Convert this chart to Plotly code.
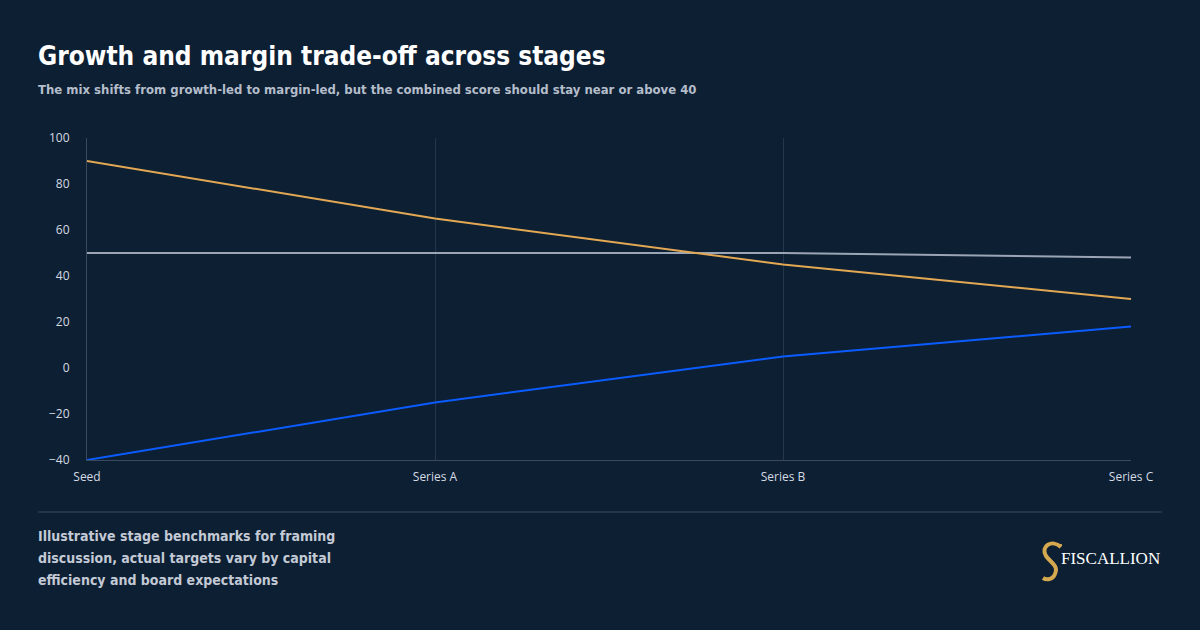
import plotly.graph_objects as go

stages = ["Seed", "Series A", "Series B", "Series C"]
growth = [90, 65, 45, 30]
margin = [-40, -15, 5, 18]
combined = [50, 50, 50, 48]
y_ticks = [-40, -20, 0, 20, 40, 60, 80, 100]

title = "Growth and margin trade-off across stages"
subtitle = "The mix shifts from growth-led to margin-led, but the combined score should stay near or above 40"
footer_lines = ["Illustrative stage benchmarks for framing",
                "discussion, actual targets vary by capital",
                "efficiency and board expectations"]

BG = "#0d1f33"
COND = "Liberation Sans Narrow, DejaVu Sans Condensed, sans-serif"
L, W, T, H = 87, 1044, 138, 322


def px(x):
    return (x - L) / W


def py(y):
    return 1 - (y - T) / H


fig = go.Figure()
fig.add_trace(go.Scatter(x=stages, y=combined, mode="lines", name="Combined",
                         line=dict(color="#9aa5b5", width=2)))
fig.add_trace(go.Scatter(x=stages, y=growth, mode="lines", name="Growth",
                         line=dict(color="#e3a853", width=2)))
fig.add_trace(go.Scatter(x=stages, y=margin, mode="lines", name="Margin",
                         line=dict(color="#0b5cff", width=2)))

fig.update_layout(
    width=1200, height=630,
    paper_bgcolor=BG, plot_bgcolor=BG,
    margin=dict(l=87, r=69, t=138, b=170),
    showlegend=False,
    font=dict(family="Open Sans", color="#d5dbe3", size=12),
    xaxis=dict(type="category", showgrid=True, gridcolor="#25364a", gridwidth=1,
               showline=True, linecolor="#3a4a5e", zeroline=False,
               tickfont=dict(size=12, color="#d5dbe3"), ticks="outside", ticklen=6,
               tickcolor="rgba(0,0,0,0)"),
    yaxis=dict(range=[-40, 100], tickvals=y_ticks, showgrid=False,
               showline=True, linecolor="#3a4a5e", zeroline=False,
               tickfont=dict(size=12, color="#d5dbe3"), ticks="", ticklabelstandoff=14),
)

fig.add_annotation(text="<b>" + title + "</b>", xref="paper", yref="paper",
                   x=px(36), y=py(56), xanchor="left", yanchor="middle", showarrow=False,
                   font=dict(family=COND, size=26, color="#ffffff"))
fig.add_annotation(text="<b>" + subtitle + "</b>",
                   xref="paper", yref="paper", x=px(36), y=py(89),
                   xanchor="left", yanchor="middle", showarrow=False,
                   font=dict(family=COND, size=13, color="#b4bdca"))
fig.add_shape(type="line", xref="paper", yref="paper",
              x0=px(38), x1=px(1162), y0=py(512), y1=py(512),
              line=dict(color="#24354a", width=2))
for i, line in enumerate(footer_lines):
    fig.add_annotation(text="<b>" + line + "</b>",
                       xref="paper", yref="paper", x=px(36), y=py(536 + 22 * i),
                       xanchor="left", yanchor="middle", align="left", showarrow=False,
                       font=dict(family=COND, size=14, color="#c3cad5"))
fig.add_annotation(text="FISCALLION", xref="paper", yref="paper",
                   x=px(1162), y=py(558), xanchor="right", yanchor="middle",
                   showarrow=False, font=dict(family="Liberation Serif", size=17, color="#ffffff"))


def pth(pts):
    out = []
    for cmd, coords in pts:
        s = cmd + " " + " ".join(f"{px(a):.5f},{py(b):.5f}" for a, b in coords)
        out.append(s)
    return " ".join(out)


icon = pth([("M", [(1061, 547)]),
            ("C", [(1052, 539), (1040, 546), (1046, 556)]),
            ("C", [(1051, 563), (1060, 566), (1054, 576)]),
            ("C", [(1051, 580), (1046, 580), (1043, 578)])])
fig.add_shape(type="path", xref="paper", yref="paper", path=icon,
              line=dict(color="#d4a94f", width=4))
head = pth([("M", [(1050, 543)]), ("L", [(1062, 545), (1063, 551), (1058, 549)]), ("Z", [])])
fig.add_shape(type="path", xref="paper", yref="paper", path=head,
              line=dict(color="#d4a94f", width=1), fillcolor="#d4a94f")

fig.write_html("out.html")
